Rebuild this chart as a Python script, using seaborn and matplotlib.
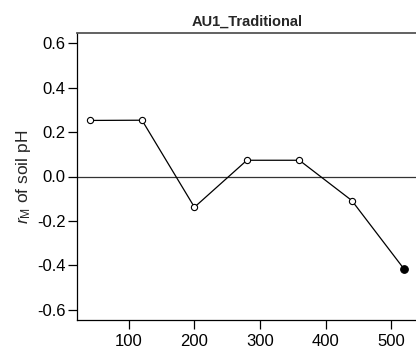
import matplotlib
matplotlib.use("Agg")
import matplotlib.pyplot as plt
import seaborn as sns
import pandas as pd

distance = [40, 120, 200, 280, 360, 440, 520]
r_m = [0.252, 0.253, -0.138, 0.073, 0.073, -0.108, -0.417]
significant = [False, False, False, False, False, False, True]
y_ticks = [-0.6, -0.4, -0.2, 0.0, 0.2, 0.4, 0.6]
x_ticks = [100, 200, 300, 400, 500]
title = "AU1_Traditional"

sns.set_theme(style="ticks")
plt.rcParams['font.family'] = ['Liberation Sans', 'DejaVu Sans']
plt.rcParams['mathtext.fontset'] = 'custom'
plt.rcParams['mathtext.rm'] = 'Liberation Sans'
plt.rcParams['mathtext.it'] = 'Liberation Sans:italic'

df = pd.DataFrame({"distance": distance, "r": r_m, "sig": significant})

fig = plt.figure(figsize=(4.16, 3.53), dpi=100)
ax = fig.add_axes([0.185, 0.0935, 0.817, 0.813])

sns.lineplot(data=df, x="distance", y="r", color="black", linewidth=0.9, ax=ax)
ax.axhline(0, color="#333333", linewidth=0.9, zorder=1)
ns = df[~df["sig"]]
sg = df[df["sig"]]
sns.scatterplot(data=ns, x="distance", y="r", marker="o", s=20, facecolor="white",
                edgecolor="black", linewidth=0.8, ax=ax, zorder=3)
sns.scatterplot(data=sg, x="distance", y="r", marker="o", s=30, color="black",
                edgecolor="black", linewidth=0.8, ax=ax, zorder=3)

ax.set_xlim(20.8, 539.2)
ax.set_ylim(-0.645, 0.645)
ax.set_xticks(x_ticks)
ax.set_yticks(y_ticks)
ax.set_yticklabels([f"{v:.1f}" for v in y_ticks])
ax.tick_params(axis="both", direction="out", length=6.5, width=0.9, labelsize=12,
               colors="black")
ax.tick_params(axis="y", pad=1.5)
ax.tick_params(axis="x", pad=3.5)
for s in ["left", "bottom"]:
    ax.spines[s].set_color("black")
    ax.spines[s].set_linewidth(0.9)
for s in ["top", "right"]:
    ax.spines[s].set_color("#555555")
    ax.spines[s].set_linewidth(1.3)
ax.set_xlabel("")
ax.set_ylabel(r"$r_{\mathrm{M}}$ of soil pH", fontsize=12.5, labelpad=3)
ax.set_title(title, fontsize=10.5, fontweight="bold", pad=5)

fig.savefig("out.png", dpi=100)
